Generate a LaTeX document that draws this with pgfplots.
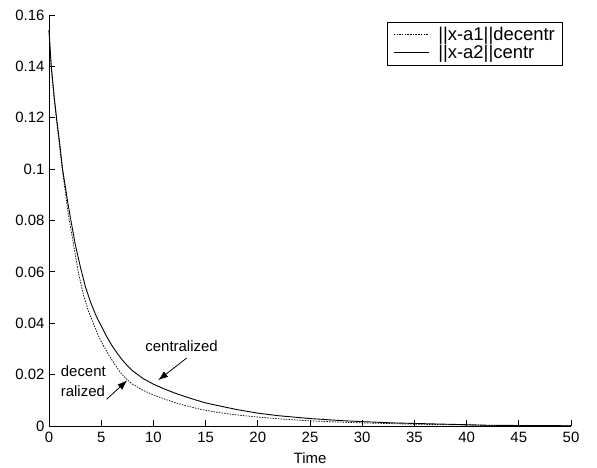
\documentclass[border=0pt]{standalone}
\usepackage{pgfplots}
\pgfplotsset{compat=1.18}
\usepackage{fontspec}
\setmainfont{Liberation Sans}
\usetikzlibrary{arrows.meta}

% decentralized error ||x-a1||
\pgfplotstableread{
t     e
0     0.154
0.2   0.140
0.5   0.127
0.75  0.118
1     0.109
1.3   0.099
1.9   0.081
2.3   0.072
2.8   0.060
3.3   0.051
3.8   0.0445
4.25  0.040
4.75  0.035
5.25  0.031
5.75  0.0275
6.3   0.024
6.9   0.0205
7.5   0.0180
8     0.0163
9     0.0139
10    0.0121
11    0.0106
12    0.0092
13    0.0080
14.5  0.0065
16    0.0054
18    0.0043
20    0.0035
22    0.0028
25    0.0020
28    0.0015
30    0.0012
33    0.0009
35    0.0007
38    0.0005
40    0.0004
42    0.0002
45    0.0001
50    0.0001
}\decentr

% centralized error ||x-a2||
\pgfplotstableread{
t     e
0     0.154
0.2   0.141
0.5   0.128
0.75  0.119
1     0.111
1.3   0.100
1.8   0.087
2.1   0.080
2.5   0.071
3     0.062
3.5   0.054
4     0.048
4.5   0.043
5     0.039
5.5   0.035
6     0.0315
6.5   0.0285
7     0.0258
7.5   0.0235
8     0.0215
9     0.0185
10    0.0163
11    0.0145
12    0.0129
13    0.0115
14    0.0102
15    0.0090
16    0.0081
18    0.0064
20    0.0050
22    0.0040
25    0.0029
28    0.0021
30    0.0017
33    0.0012
35    0.0010
38    0.0007
40    0.0005
42    0.0003
45    0.0002
50    0.0001
}\centr

\begin{document}
\begin{tikzpicture}[font=\fontsize{15}{18}\selectfont]
  \begin{axis}[
      scale only axis,
      width=522bp, height=411bp,
      xmin=0, xmax=50, ymin=0, ymax=0.16,
      axis lines=left,
      axis line style={-, line width=1pt},
      tick align=inside,
      major tick length=6bp,
      tick style={black, line width=0.8pt},
      xtick={0,5,...,50},
      ytick={0,0.02,...,0.16},
      scaled y ticks=false,
      yticklabel style={/pgf/number format/fixed, /pgf/number format/precision=2,
                        xshift=-1bp},
      xticklabel style={yshift=-3bp},
      /pgf/number format/assume math mode=true,
      xlabel={Time},
      xlabel style={yshift=-3bp},
      legend style={at={(rel axis cs:0.985,0.983)}, anchor=north east,
                    draw=black, line width=0.8pt, inner xsep=6bp, inner ysep=3bp,
                    font=\fontsize{18.5}{20}\selectfont,
                    cells={anchor=west}, row sep=-1bp,
                    /tikz/every odd column/.append style={column sep=7bp}},
      legend image code/.code={\draw[#1] (0bp,0bp) -- (35bp,0bp);},
      clip=false,
    ]
    \addplot[black, line width=0.7pt, dash pattern=on 1.5bp off 1.2bp] table[x=t,y=e] {\decentr};
    \addlegendentry{||x-a1||decentr}
    \addplot[black, line width=0.9pt] table[x=t,y=e] {\centr};
    \addlegendentry{||x-a2||centr}

    % annotations
    \node at (axis cs:12.7,0.0309) {centralized};
    \draw[-{Latex[length=10bp,width=7bp]}, line width=0.8pt]
      (axis cs:13.2,0.0265) -- (axis cs:10.45,0.0178);
    \node[anchor=west, align=left, inner sep=0pt] at (axis cs:1.12,0.0176)
      {decent\\[2bp]ralized};
    \draw[-{Latex[length=10bp,width=7bp]}, line width=0.8pt]
      (axis cs:5.52,0.0104) -- (axis cs:7.5,0.0178);

    \coordinate (sw) at (rel axis cs:0,0);
  \end{axis}
  \path (sw) ++(-49bp,-41bp) rectangle ++(597bp,467bp);
\end{tikzpicture}
\end{document}
